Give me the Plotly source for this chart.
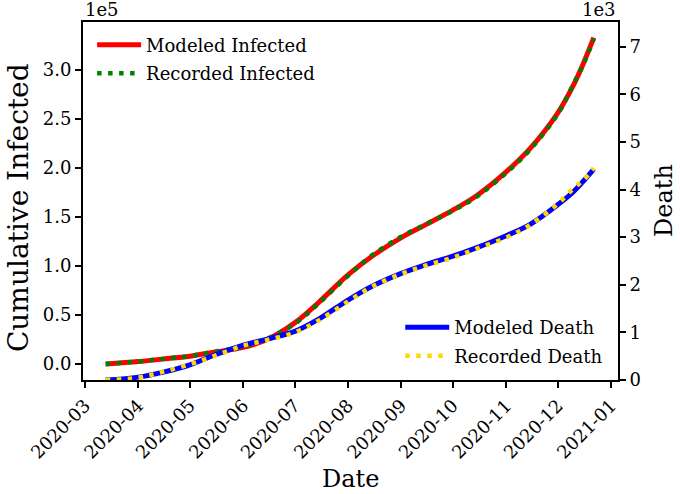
import plotly.graph_objects as go

# semi-monthly readings of the fitted and recorded curves
dates = ["2020-03-13", "2020-04-01", "2020-04-15", "2020-05-01", "2020-05-15",
         "2020-06-01", "2020-06-15", "2020-07-01", "2020-07-15", "2020-08-01",
         "2020-08-15", "2020-09-01", "2020-09-15", "2020-10-01", "2020-10-15",
         "2020-11-01", "2020-11-15", "2020-12-01", "2020-12-10", "2020-12-16",
         "2020-12-22"]

modeled_infected = [0, 2500, 5000, 8000, 12000, 17000, 25000, 42000, 63000, 91000,
                    110000, 129000, 142000, 157000, 172000, 196000, 220000, 256000,
                    284000, 307000, 333000]
recorded_infected = [0, 2600, 5200, 8200, 12500, 17500, 26000, 41000, 62000, 90000,
                     111000, 130000, 142500, 156500, 171000, 195000, 219000, 255000,
                     285000, 306000, 332000]

modeled_death = [0, 60, 160, 320, 520, 730, 860, 1020, 1280, 1680,
                 1970, 2240, 2420, 2600, 2780, 3030, 3270, 3680, 3950, 4180, 4430]
recorded_death = [0, 50, 170, 330, 500, 720, 840, 1000, 1250, 1650,
                  1960, 2230, 2400, 2570, 2760, 2990, 3260, 3700, 4020, 4200, 4450]

month_ticks = ["2020-03-01", "2020-04-01", "2020-05-01", "2020-06-01", "2020-07-01",
               "2020-08-01", "2020-09-01", "2020-10-01", "2020-11-01", "2020-12-01",
               "2021-01-01"]
infected_ticks = [0, 50000, 100000, 150000, 200000, 250000, 300000]
infected_ticktext = ["0.0", "0.5", "1.0", "1.5", "2.0", "2.5", "3.0"]
death_ticks = [0, 1000, 2000, 3000, 4000, 5000, 6000, 7000]
death_ticktext = ["0", "1", "2", "3", "4", "5", "6", "7"]

FONT = "DejaVu Serif"
dot = "4.5px,6.5px"

fig = go.Figure()
fig.add_trace(go.Scatter(x=dates, y=modeled_infected, name="Modeled Infected",
                         mode="lines", line=dict(color="#ff0000", width=5, shape="spline"),
                         legend="legend", legendgroup="a"))
fig.add_trace(go.Scatter(x=dates, y=recorded_infected, name="Recorded Infected",
                         mode="lines", line=dict(color="#008000", width=4.5, dash=dot, shape="spline"),
                         legend="legend", legendgroup="b"))
fig.add_trace(go.Scatter(x=dates, y=modeled_death, name="Modeled Death", yaxis="y2",
                         mode="lines", line=dict(color="#0000ff", width=5, shape="spline"),
                         legend="legend2", legendgroup="c"))
fig.add_trace(go.Scatter(x=dates, y=recorded_death, name="Recorded Death", yaxis="y2",
                         mode="lines", line=dict(color="#ffd700", width=4.5, dash=dot, shape="spline"),
                         legend="legend2", legendgroup="d"))

axis_common = dict(
    showline=True, linecolor="black", linewidth=2,
    ticks="outside", ticklen=6, tickwidth=1.5, tickcolor="black",
    showgrid=False, zeroline=False, automargin=False,
    tickfont=dict(family=FONT, size=18, color="black"),
)

legend_common = dict(bgcolor="rgba(0,0,0,0)", font=dict(family=FONT, size=18),
                     traceorder="grouped", tracegroupgap=2, itemwidth=44)


def label(text, x, y, size, angle=0, xanchor="center", yanchor="middle"):
    return dict(text=text, x=x, y=y, xref="paper", yref="paper",
                xanchor=xanchor, yanchor=yanchor, textangle=angle, borderpad=0,
                showarrow=False, font=dict(family=FONT, size=size))


fig.update_layout(
    width=680, height=494,
    margin=dict(l=83, r=62, t=22, b=114),
    paper_bgcolor="white", plot_bgcolor="white",
    font=dict(family=FONT, color="black"),
    xaxis=dict(
        axis_common, mirror=True,
        range=["2020-02-28 20:00", "2021-01-05 02:00"],
        tickmode="array", tickvals=month_ticks, tickformat="%Y-%m", tickangle=-45,
    ),
    yaxis=dict(
        axis_common,
        range=[-16300, 349000],
        tickmode="array", tickvals=infected_ticks, ticktext=infected_ticktext,
    ),
    yaxis2=dict(
        axis_common, overlaying="y", side="right",
        range=[0, 7520],
        tickmode="array", tickvals=death_ticks, ticktext=death_ticktext,
    ),
    legend=dict(legend_common, x=0.017, y=0.987, xanchor="left", yanchor="top"),
    legend2=dict(legend_common, x=0.593, y=0.198, xanchor="left", yanchor="top"),
    showlegend=True,
    annotations=[
        dict(text="1e5", x=0, y=1, xref="paper", yref="paper", xanchor="left", yanchor="bottom",
             showarrow=False, font=dict(family=FONT, size=18)),
        dict(text="1e3", x=1, y=1, xref="paper", yref="paper", xanchor="right", yanchor="bottom",
             showarrow=False, font=dict(family=FONT, size=18)),
        label("Cumulative Infected", -0.1215, 0.483, 28, -90),
        label("Death", 1.086, 0.5, 24, -90),
        label("Date", 0.5, -0.3184, 24, yanchor="bottom"),
    ],
)

fig.write_html("out.html", config={"displayModeBar": False},
               post_script="document.body.style.margin = '0';")
